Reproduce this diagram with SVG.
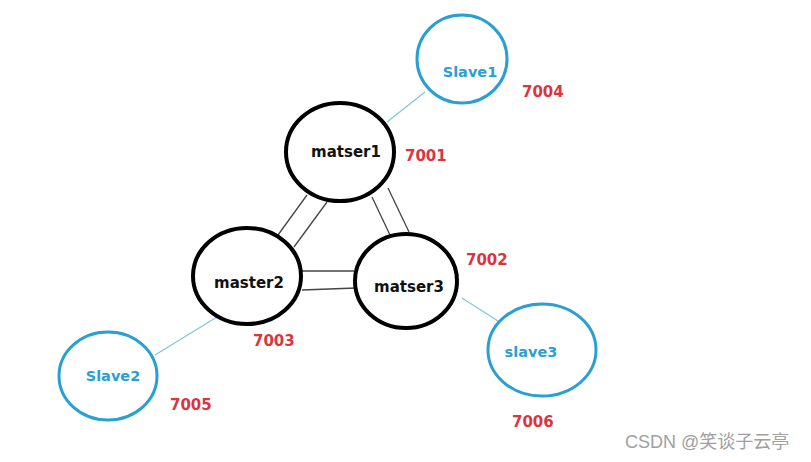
<svg xmlns="http://www.w3.org/2000/svg" width="811" height="462" viewBox="0 0 811 462">
<style>
.m{fill:#fff;stroke:#000;stroke-width:4}
.s{fill:#fff;stroke:#2a9fd4;stroke-width:3}
.mt{font-family:"DejaVu Sans",sans-serif;font-weight:bold;font-size:15px;fill:#111;text-anchor:middle}
.st{font-family:"DejaVu Sans",sans-serif;font-weight:bold;font-size:14.5px;fill:#2a9fd4;text-anchor:middle}
.p{font-family:"DejaVu Sans",sans-serif;font-weight:bold;font-size:15px;fill:#d9363e}
.d{stroke:#444;stroke-width:1.3;fill:none}
.b{stroke:#7cc6de;stroke-width:1.2;fill:none}
</style>
<rect width="811" height="462" fill="#fff"/>
<g id="connectors">
<line class="b" x1="387" y1="122" x2="425" y2="92"/>
<line class="b" x1="155" y1="355" x2="217" y2="317"/>
<line class="b" x1="462" y1="298" x2="498" y2="321"/>
<line class="d" x1="307" y1="195" x2="278" y2="235"/>
<line class="d" x1="327" y1="202" x2="294" y2="247"/>
<line class="d" x1="372" y1="197" x2="390" y2="235"/>
<line class="d" x1="388" y1="188" x2="409" y2="232"/>
<line class="d" x1="300" y1="271" x2="354" y2="271"/>
<line class="d" x1="302" y1="290" x2="356" y2="288"/>
</g>
<g id="matser1"><ellipse class="m" cx="340" cy="152" rx="54" ry="49"/><text class="mt" x="346" y="157">matser1</text></g>
<g id="master2"><ellipse class="m" cx="247" cy="276" rx="54" ry="48"/><text class="mt" x="249" y="288">master2</text></g>
<g id="matser3"><ellipse class="m" cx="406" cy="281" rx="51" ry="47"/><text class="mt" x="409" y="292">matser3</text></g>
<g id="slave1"><ellipse class="s" cx="462" cy="59" rx="45" ry="44"/><text class="st" x="470" y="77">Slave1</text></g>
<g id="slave2"><ellipse class="s" cx="108" cy="376" rx="49" ry="44"/><text class="st" x="113" y="381">Slave2</text></g>
<g id="slave3"><ellipse class="s" cx="542" cy="350" rx="54" ry="46"/><text class="st" x="531" y="357">slave3</text></g>
<g id="labels">
<text class="p" x="405" y="161">7001</text>
<text class="p" x="466" y="265">7002</text>
<text class="p" x="253" y="346">7003</text>
<text class="p" x="522" y="97">7004</text>
<text class="p" x="170" y="410">7005</text>
<text class="p" x="512" y="427">7006</text>
</g>
<text x="625" y="448" font-family="'Liberation Sans','Noto Sans CJK SC',sans-serif" font-size="18" fill="#a0a0a0">CSDN @笑谈子云亭</text>
</svg>
